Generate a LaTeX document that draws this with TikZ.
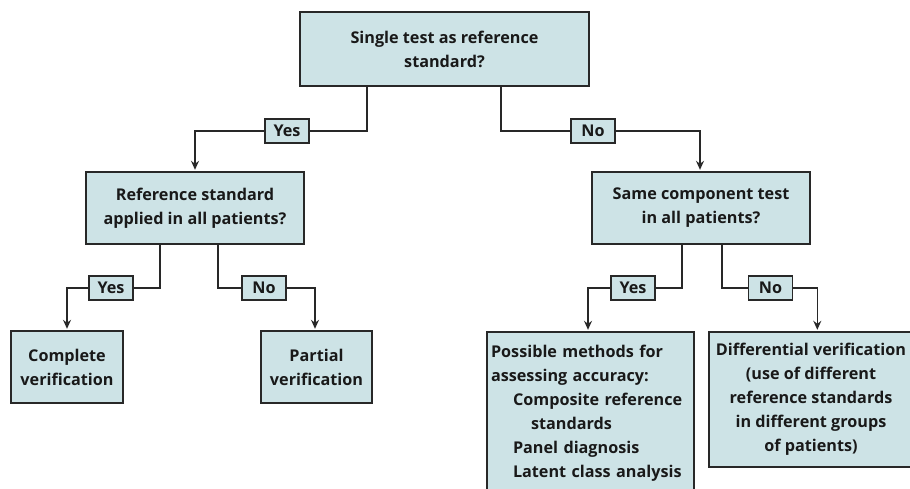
\documentclass[tikz,border=0pt]{standalone}
\usepackage{fontspec}
\setmainfont{Open Sans}
\usetikzlibrary{arrows.meta,backgrounds,calc}
\definecolor{boxfill}{RGB}{205,227,230}
\definecolor{edge}{RGB}{40,40,40}
\definecolor{ink}{RGB}{25,25,25}
\begin{document}
\begin{tikzpicture}[x=1pt,y=-1pt,
  every node/.style={font=\fontsize{16.2}{24}\selectfont\bfseries, text=ink},
  box/.style={draw=edge, line width=1.4pt, fill=boxfill, align=center, inner sep=0pt},
  tag/.style={draw=edge, line width=1.4pt, fill=boxfill, minimum width=44pt, minimum height=24pt, inner sep=0pt},
  conn/.style={draw=edge, line width=1.4pt},
  arr/.style={conn, -{Stealth[length=9pt,width=8pt,inset=3pt]}, shorten >=1.5pt}]
\useasboundingbox (0,0) rectangle (910,488);
% question boxes
\node[box, minimum width=289pt, minimum height=74pt] (top) at (444.5,49) {Single test as reference\\standard?};
\node[box, minimum width=218pt, minimum height=72pt] (ref) at (195,208) {Reference standard\\applied in all patients?};
\node[box, minimum width=218pt, minimum height=72pt] (same) at (701,208) {Same component test\\in all patients?};
% outcome boxes
\node[box, minimum width=112pt, minimum height=72pt] (complete) at (67,367) {Complete\\verification};
\node[box, minimum width=111pt, minimum height=72pt] (partial) at (316.5,367) {Partial\\verification};
\node[box, minimum width=207pt, minimum height=163pt, text width=199pt, align=left] (methods) at (590.5,413.5)
  {Possible methods for\\assessing accuracy:\\\hspace*{22pt}Composite reference\\\hspace*{40pt}standards\\\hspace*{22pt}Panel diagnosis\\\hspace*{22pt}Latent class analysis};
\node[box, minimum width=204pt, minimum height=135pt] (diff) at (811,399.5)
  {Differential verification\\(use of different\\reference standards\\in different groups\\of patients)};
% answer tags
\node[tag] (yes1) at (287,131) {Yes};
\node[tag] (no1) at (593,131) {No};
\node[tag] (yes2) at (111,288) {Yes};
\node[tag] (no2) at (264,288) {No};
\node[tag] (yes3) at (633,288) {Yes};
\node[tag] (no3) at (770.5,288) {No};
% connectors
\begin{pgfonlayer}{background}
\draw[arr] ([xshift=-77.5pt]top.south) |- (yes1) -| (ref.north);
\draw[arr] ([xshift=56.5pt]top.south) |- (no1) -| ([xshift=-1pt]same.north);
\draw[arr] ([xshift=-35pt]ref.south) |- (yes2) -| (complete.north);
\draw[arr] ([xshift=23pt]ref.south) |- (no2) -| ([xshift=-1.5pt]partial.north);
\draw[arr] ([xshift=-19pt]same.south) |- (yes3) -| ([xshift=-2.5pt]methods.north);
\draw[arr] ([xshift=21pt]same.south) |- (no3) -| ($(diff.north west)+(109pt,0)$);
\end{pgfonlayer}
\end{tikzpicture}
\end{document}
